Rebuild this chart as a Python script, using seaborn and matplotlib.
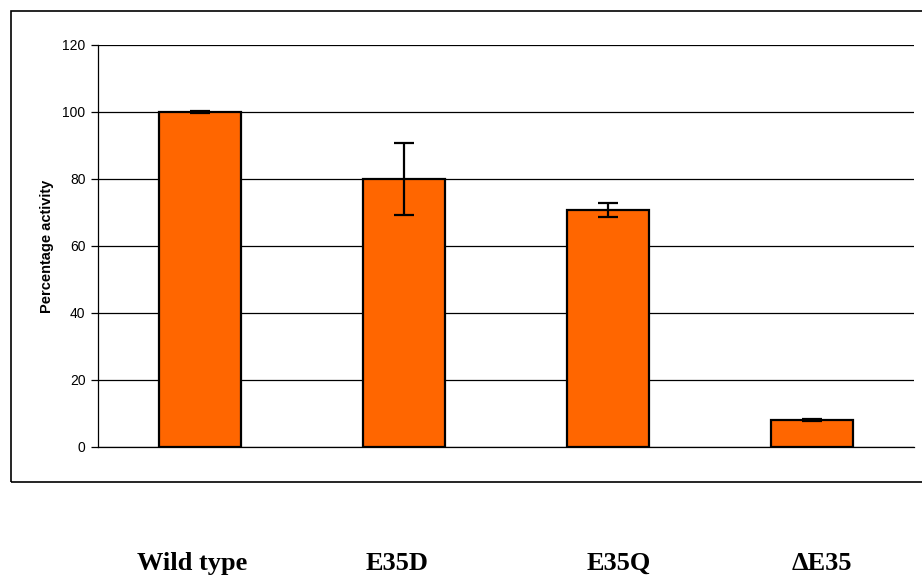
import matplotlib
matplotlib.use("Agg")
import matplotlib.pyplot as plt
from matplotlib.patches import Rectangle
import matplotlib.transforms as mtransforms
import seaborn as sns
import pandas as pd

# Enzyme activity of each variant, relative to wild type
variants = ["Wild type", "E35D", "E35Q", "\u0394E35"]
activity = [100, 80, 70.7, 8]
activity_err = [0.2, 10.8, 2.0, 0.3]
y_ticks = [0, 20, 40, 60, 80, 100, 120]

df = pd.DataFrame({"variant": variants, "activity": activity})

sns.set_theme(style="white")
plt.rcParams["font.family"] = ["Liberation Sans", "DejaVu Sans"]
plt.rcParams.update({"text.color": "black", "axes.labelcolor": "black",
                     "xtick.color": "black", "ytick.color": "black"})

fig = plt.figure(figsize=(9.22, 5.76), dpi=100)
ax = fig.add_axes([0.1063, 0.2240, 0.9913 - 0.1063, 0.9219 - 0.2240])

# Outer frame around the chart area
fig.patches.append(Rectangle((0.0119, 0.1632), 1.2, 0.981 - 0.1632,
                             transform=fig.transFigure, fill=False,
                             edgecolor="black", linewidth=1.2, zorder=0))

sns.barplot(data=df, x="variant", y="activity", ax=ax, color="#FF6600",
            saturation=1, width=0.4, edgecolor="black", linewidth=1.6,
            errorbar=None, zorder=3)
ax.errorbar(range(len(variants)), activity, yerr=activity_err, fmt="none",
            ecolor="black", elinewidth=1.6, capsize=7, capthick=1.6, zorder=4)

ax.set_ylim(0, 120)
ax.set_yticks(y_ticks)
ax.set_yticklabels([str(t) for t in y_ticks], fontsize=10, color="black")
ax.yaxis.grid(True, color="black", linewidth=0.9)
ax.set_axisbelow(True)
ax.tick_params(axis="y", which="both", left=True, length=5, width=0.9,
               color="black", pad=4)
ax.tick_params(axis="x", bottom=False)
ax.set_xlim(-0.5, len(variants) - 0.5)

for side in ["top", "right"]:
    ax.spines[side].set_visible(False)
for side in ["left", "bottom"]:
    ax.spines[side].set_color("black")
    ax.spines[side].set_linewidth(0.9)

ax.set_ylabel("Percentage activity", fontsize=10.5, fontweight="bold",
              labelpad=6, color="black")
ax.set_xlabel("")
ax.set_xticklabels([])

# Category captions set well below the frame
label_shift_px = [-8, -7, 11, 10]
for i, (name, dx) in enumerate(zip(variants, label_shift_px)):
    tr = mtransforms.offset_copy(ax.get_xaxis_transform(), fig=fig,
                                 x=dx * 72 / 100, y=0, units="points")
    ax.text(i, -0.29, name, transform=tr, ha="center", va="center",
            fontsize=19, fontweight="bold", family="Liberation Serif",
            color="black")

fig.savefig("out.png", dpi=100)
